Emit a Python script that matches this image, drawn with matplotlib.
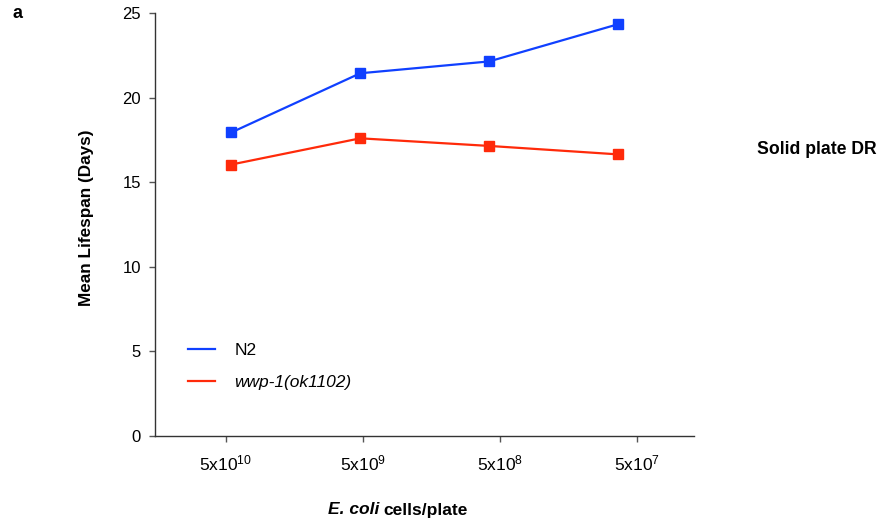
import numpy as np
import matplotlib.pyplot as plt

plt.rcParams['font.family'] = ['Liberation Sans', 'DejaVu Sans']
plt.rcParams['mathtext.fontset'] = 'custom'
plt.rcParams['mathtext.rm'] = 'Liberation Sans'
plt.rcParams['mathtext.it'] = 'Liberation Sans:italic'
plt.rcParams['mathtext.bf'] = 'Liberation Sans:bold'

# --- Data ---
food_levels = ['5x10^{10}', '5x10^{9}', '5x10^{8}', '5x10^{7}']
tick_pos = [0, 1, 2, 3]
# marker positions sit slightly off the category ticks in the original
point_pos = [0.04, 0.98, 1.92, 2.86]
n2_life = [17.95, 21.45, 22.15, 24.35]
wwp1_life = [16.05, 17.6, 17.15, 16.65]

blue = '#1040ff'
red = '#ff2a0a'

# --- Figure ---
fig = plt.figure(figsize=(8.8, 5.25), dpi=100)
ax = fig.add_axes([0.1758, 0.1701, 0.6128, 0.8046])

ax.plot(point_pos, n2_life, '-s', color=blue, lw=1.6, markersize=6.5, label='N2')
ax.plot(point_pos, wwp1_life, '-s', color=red, lw=1.6, markersize=6.5,
        label='wwp-1(ok1102)')

ax.set_xlim(-0.52, 3.415)
ax.set_ylim(0, 25)
ax.set_yticks([0, 5, 10, 15, 20, 25])
ax.set_xticks(tick_pos)
ax.set_xticklabels([r'$\mathregular{%s}$' % s for s in food_levels])

for s in ['top', 'right']:
    ax.spines[s].set_visible(False)
for s in ['left', 'bottom']:
    ax.spines[s].set_color('#333333')
    ax.spines[s].set_linewidth(1.0)

ax.tick_params(axis='y', direction='out', length=4, width=1, pad=6,
               labelsize=12, color='#555555')
ax.tick_params(axis='x', direction='out', length=4, width=1, pad=9,
               labelsize=12.5, color='#555555')

# legend
leg = ax.legend(loc='upper left', bbox_to_anchor=(0.032, 0.257), frameon=False,
                fontsize=12.5, handlelength=1.6, handletextpad=1.1,
                labelspacing=1.0)
for h in leg.get_lines():
    h.set_marker('')
leg.get_texts()[1].set_style('italic')

# labels
fig.text(86 / 880, 1 - 218 / 525, 'Mean Lifespan (Days)', rotation=90,
         ha='center', va='center', fontsize=12.3, fontweight='bold')
fig.text(379 / 880, 1 - 510 / 525, 'E. coli', ha='right', va='center',
         fontsize=12.5, fontweight='bold', style='italic')
fig.text(383 / 880, 1 - 510 / 525, 'cells/plate', ha='left', va='center',
         fontsize=12.5, fontweight='bold')
fig.text(12 / 880, 1 - 14 / 525, 'a', ha='left', va='center',
         fontsize=13, fontweight='bold')
fig.text(757 / 880, 1 - 150 / 525, 'Solid plate DR', ha='left', va='center',
         fontsize=12.7, fontweight='bold')

fig.savefig('out.png', dpi=100)
